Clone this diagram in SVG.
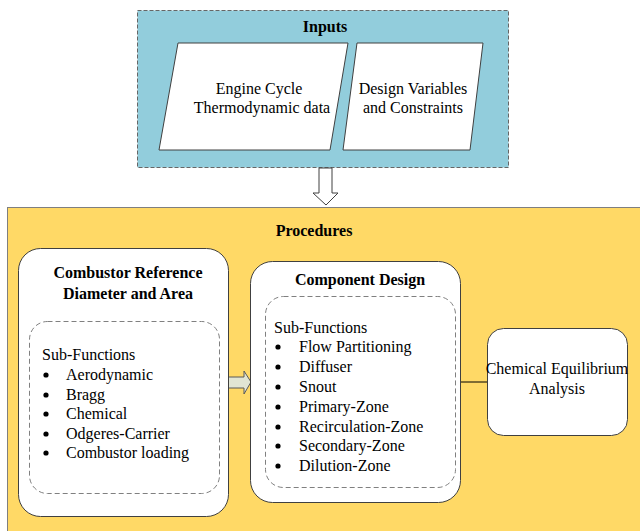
<svg xmlns="http://www.w3.org/2000/svg" width="640" height="531" viewBox="0 0 640 531" font-family="'Liberation Serif', Tinos, 'Times New Roman', 'DejaVu Serif', serif">
<style>
text{font-family:"Liberation Serif",Tinos,"Times New Roman","DejaVu Serif",serif;font-size:16px;fill:#000}
.b{font-weight:bold}
.m{text-anchor:middle}
.box{fill:#fff;stroke:#404040;stroke-width:1}
.dash{fill:none;stroke:#808080;stroke-width:1;stroke-dasharray:5,3}
.para{fill:#fff;stroke:#404040;stroke-width:1}
</style>
<rect width="640" height="531" fill="#fff"/>
<g id="inputs">
<rect x="137.5" y="10.5" width="371" height="157" fill="#92CDDC" stroke="#666" stroke-dasharray="4,2"/>
<text class="b m" x="325" y="32">Inputs</text>
</g>
<g id="engine-cycle">
<polygon class="para" points="178,43 348,43 330,150 159,150"/>
<text class="m" x="259" y="94">Engine Cycle</text>
<text class="m" x="262" y="113">Thermodynamic data</text>
</g>
<g id="design-variables">
<polygon class="para" points="357,43 483,43 470,150 343,150"/>
<text class="m" x="413" y="94">Design Variables</text>
<text class="m" x="413" y="113">and Constraints</text>
</g>
<g id="procedures">
<rect x="7.5" y="207.5" width="640" height="330" fill="#FFD966" stroke="#7f7f7f"/>
<text class="b m" x="314" y="236">Procedures</text>
</g>
<g id="connectors">
<polygon points="319,168 332,168 332,193 338,193 326,205 313,193 319,193" fill="#fff" stroke="#404040"/>
<polygon points="226,377 244,377 244,371 251,382 244,394 244,388 226,388" fill="#E1E5D3" stroke="#595959"/>
<line x1="460" y1="382" x2="487" y2="382" stroke="#000"/>
</g>
<g id="combustor-reference">
<rect class="box" x="18.5" y="248.5" width="210" height="268" rx="22"/>
<text class="b m" x="128" y="278">Combustor Reference</text>
<text class="b m" x="128" y="299">Diameter and Area</text>
<rect class="dash" x="29.5" y="321.5" width="190" height="172" rx="18"/>
<text x="42" y="360">Sub-Functions</text>
<g>
<circle cx="46" cy="375" r="2.6"/><text x="66" y="380">Aerodynamic</text>
<circle cx="46" cy="395" r="2.6"/><text x="66" y="400">Bragg</text>
<circle cx="46" cy="414" r="2.6"/><text x="66" y="419">Chemical</text>
<circle cx="46" cy="434" r="2.6"/><text x="66" y="439">Odgeres-Carrier</text>
<circle cx="46" cy="453" r="2.6"/><text x="66" y="458">Combustor loading</text>
</g>
</g>
<g id="component-design">
<rect class="box" x="250.5" y="261.5" width="210" height="241" rx="22"/>
<text class="b m" x="360" y="285">Component Design</text>
<rect class="dash" x="265.5" y="296.5" width="190" height="191" rx="18"/>
<text x="274" y="333">Sub-Functions</text>
<g>
<circle cx="278" cy="347" r="2.6"/><text x="299" y="352">Flow Partitioning</text>
<circle cx="278" cy="367" r="2.6"/><text x="299" y="372">Diffuser</text>
<circle cx="278" cy="387" r="2.6"/><text x="299" y="392">Snout</text>
<circle cx="278" cy="407" r="2.6"/><text x="299" y="412">Primary-Zone</text>
<circle cx="278" cy="427" r="2.6"/><text x="299" y="432">Recirculation-Zone</text>
<circle cx="278" cy="446" r="2.6"/><text x="299" y="451">Secondary-Zone</text>
<circle cx="278" cy="466" r="2.6"/><text x="299" y="471">Dilution-Zone</text>
</g>
</g>
<g id="chemical-equilibrium">
<rect class="box" x="487.5" y="328.5" width="140" height="107" rx="16"/>
<text class="m" x="557" y="374">Chemical Equilibrium</text>
<text class="m" x="557" y="394">Analysis</text>
</g>
</svg>
